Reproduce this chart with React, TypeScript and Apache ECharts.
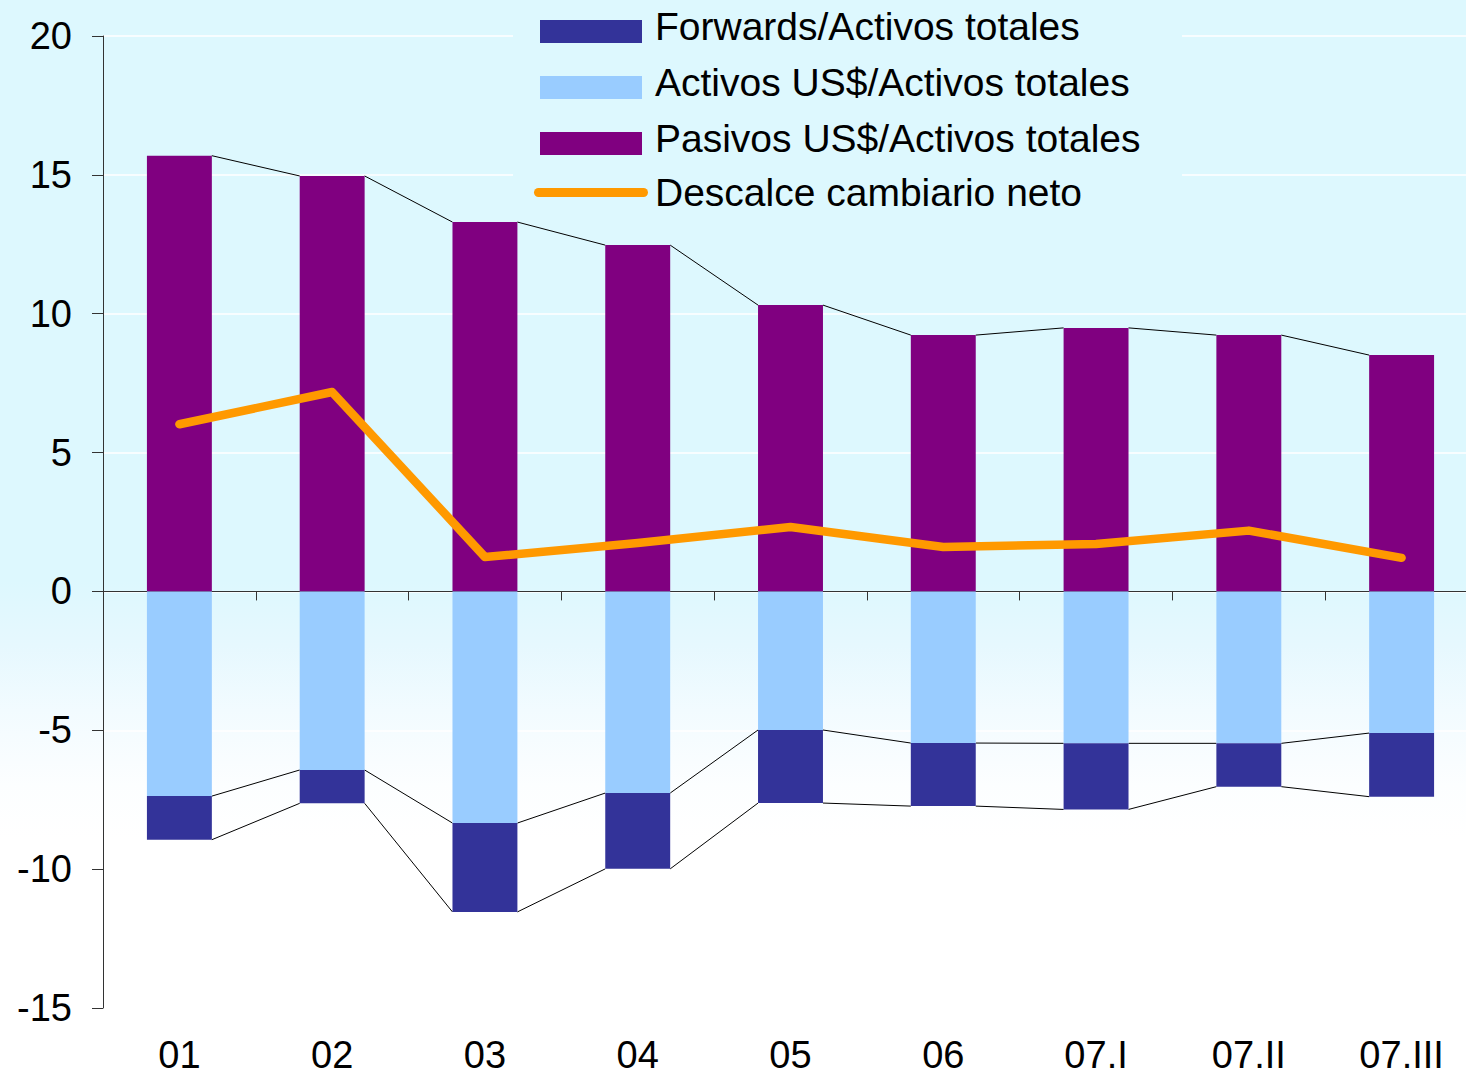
import React, { useEffect, useRef } from "react";
import * as echarts from "echarts";

const categories = ["01", "02", "03", "04", "05", "06", "07.I", "07.II", "07.III"];
const pasivos = [15.69, 14.96, 13.3, 12.47, 10.31, 9.23, 9.49, 9.23, 8.51];
const activos = [-7.37, -6.43, -8.34, -7.26, -4.99, -5.46, -5.47, -5.47, -5.1];
const forwards = [-1.57, -1.2, -3.2, -2.73, -2.63, -2.27, -2.38, -1.56, -2.29];
const descalce = [6.02, 7.18, 1.24, 1.74, 2.32, 1.6, 1.71, 2.19, 1.21];
const yTicks = { min: -15, max: 20, interval: 5 };

const NAME_FWD = "Forwards/Activos totales";
const NAME_ACT = "Activos US$/Activos totales";
const NAME_PAS = "Pasivos US$/Activos totales";
const NAME_NET = "Descalce cambiario neto";

const FONT = "'Liberation Sans', Arial, sans-serif";
const BAR_RATIO = 0.425;
const BG_TOP = "#DDF8FE";

// legend icons: rectangle sitting in the lower part of its box (tiny sliver at top keeps the box)
const RECT_ICON = "path://M0,0 L0.001,0 L0.001,0.001 Z M0,11 L102,11 L102,34 L0,34 Z";
const PILL_ICON = "path://M4.5,0 L109.5,0 A4.5,4.5 0 0 1 109.5,9 L4.5,9 A4.5,4.5 0 0 1 4.5,0 Z";

export default function App() {
  const ref = useRef<HTMLDivElement>(null);

  useEffect(() => {
    document.body.style.margin = "0";
    document.body.style.overflow = "hidden";
    if (!ref.current) return;
    const chart = echarts.init(ref.current, undefined, { renderer: "svg" });

    const seriesLineData = categories.slice(0, -1).map((_, i) => [
      i,
      pasivos[i],
      pasivos[i + 1],
      activos[i],
      activos[i + 1],
      activos[i] + forwards[i],
      activos[i + 1] + forwards[i + 1],
    ]);

    const option: any = {
      animation: false,
      backgroundColor: "transparent",
      textStyle: { fontFamily: FONT },
      grid: { left: 103, top: 36, right: 0, height: 972 },
      graphic: [
        {
          type: "rect",
          z: 1,
          shape: { x: 513, y: 0, width: 669, height: 210 },
          style: { fill: BG_TOP },
          silent: true,
        },
      ],
      legend: [
        {
          data: [NAME_FWD, NAME_ACT, NAME_PAS],
          orient: "vertical",
          left: 540,
          top: 6,
          padding: 0,
          itemWidth: 102,
          itemHeight: 34,
          itemGap: 16,
          icon: RECT_ICON,
          selectedMode: false,
          z: 5,
          textStyle: {
            fontSize: 39,
            lineHeight: 40,
            color: "#000",
            fontFamily: FONT,
            padding: [0, 0, 0, 8],
          },
        },
        {
          data: [NAME_NET],
          orient: "vertical",
          left: 534,
          top: 172.5,
          padding: 0,
          itemWidth: 114,
          itemHeight: 9,
          icon: PILL_ICON,
          selectedMode: false,
          z: 5,
          textStyle: {
            fontSize: 39,
            lineHeight: 40,
            color: "#000",
            fontFamily: FONT,
            padding: [0, 0, 0, 2],
          },
        },
      ],
      xAxis: [
        {
          type: "category",
          data: categories,
          boundaryGap: true,
          axisLine: { show: true, onZero: true, lineStyle: { color: "#333", width: 1 } },
          axisTick: { show: true, length: 9, lineStyle: { color: "#333", width: 1 } },
          axisLabel: { show: false },
          splitLine: { show: false },
        },
        {
          type: "category",
          data: categories,
          position: "bottom",
          boundaryGap: true,
          axisLine: { show: false, onZero: false },
          axisTick: { show: false },
          axisLabel: { fontSize: 38, lineHeight: 32, color: "#000", margin: 31, fontFamily: FONT },
          splitLine: { show: false },
        },
      ],
      yAxis: {
        type: "value",
        min: yTicks.min,
        max: yTicks.max,
        interval: yTicks.interval,
        axisLine: { show: true, lineStyle: { color: "#333", width: 1 } },
        axisTick: { show: true, length: 11, lineStyle: { color: "#333", width: 1 } },
        axisLabel: { fontSize: 38, color: "#000", margin: 31, fontFamily: FONT },
        splitLine: { show: true, lineStyle: { color: "#ffffff", width: 1.5 } },
      },
      series: [
        {
          name: NAME_PAS,
          type: "bar",
          stack: "total",
          barWidth: (BAR_RATIO * 100).toFixed(1) + "%",
          itemStyle: { color: "#800080" },
          data: pasivos,
          z: 3,
        },
        {
          name: NAME_ACT,
          type: "bar",
          stack: "total",
          barWidth: (BAR_RATIO * 100).toFixed(1) + "%",
          itemStyle: { color: "#99CCFF" },
          data: activos,
          z: 3,
        },
        {
          name: NAME_FWD,
          type: "bar",
          stack: "total",
          barWidth: (BAR_RATIO * 100).toFixed(1) + "%",
          itemStyle: { color: "#333399" },
          data: forwards,
          z: 3,
        },
        {
          name: "seriesLines",
          type: "custom",
          silent: true,
          z: 2,
          data: seriesLineData,
          encode: { x: 0, y: [1, 2, 3, 4, 5, 6] },
          renderItem: (params: any, api: any) => {
            const i = api.value(0);
            const bw = api.size([1, 0])[0] * BAR_RATIO;
            const pairs = [
              [1, 2],
              [3, 4],
              [5, 6],
            ];
            return {
              type: "group",
              children: pairs.map(([a, b]) => {
                const p0 = api.coord([i, api.value(a)]);
                const p1 = api.coord([i + 1, api.value(b)]);
                return {
                  type: "line",
                  shape: { x1: p0[0] + bw / 2, y1: p0[1], x2: p1[0] - bw / 2, y2: p1[1] },
                  style: { stroke: "#000", lineWidth: 1 },
                };
              }),
            };
          },
        },
        {
          name: NAME_NET,
          type: "line",
          data: descalce,
          symbol: "none",
          z: 4,
          lineStyle: { color: "#FF9900", width: 8.5, cap: "round", join: "round" },
          itemStyle: { color: "#FF9900" },
        },
      ],
    };

    chart.setOption(option);
    return () => chart.dispose();
  }, []);

  return (
    <div
      ref={ref}
      style={{
        width: 1478,
        height: 1076,
        background:
          "linear-gradient(to bottom, #DDF8FE 0%, #DDF8FE 54%, #E6F8FE 60%, #F2FBFF 66%, #FCFEFF 73%, #FFFFFF 78%, #FFFFFF 100%)",
      }}
    />
  );
}
